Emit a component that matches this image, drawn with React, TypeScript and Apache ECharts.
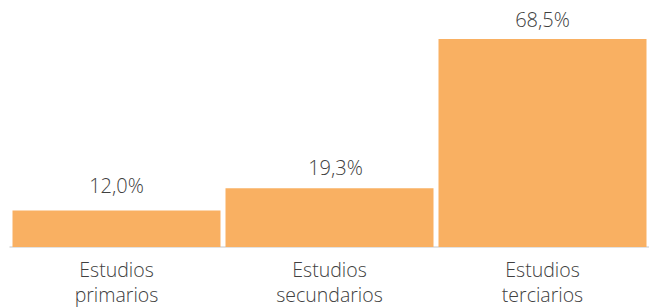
import React, { useEffect, useRef } from "react";
import * as echarts from "echarts";

const categories = ["Estudios\nprimarios", "Estudios\nsecundarios", "Estudios\nterciarios"];
const values = [12.0, 19.3, 68.5];
const Y_MAX = 81.3;

const FONT = "Open Sans";
const TEXT_COLOR = "#404040";
const BAR_COLOR = "#F9B062";

const labelDistances = [14, 10, 8];
const labelOffsets = [[0, 0], [6, 0], [0, 0]];

export default function App() {
  const ref = useRef<HTMLDivElement>(null);
  useEffect(() => {
    if (!ref.current) return;
    const chart = echarts.init(ref.current, undefined, { renderer: "svg" });
    chart.setOption({
      animation: false,
      grid: { left: 10, right: 0, top: 0, bottom: 59, containLabel: false },
      xAxis: {
        type: "category",
        data: categories,
        axisLine: { show: true, lineStyle: { color: "#D9D9D9", width: 1.5 } },
        axisTick: { show: false },
        axisLabel: {
          margin: 10,
          color: TEXT_COLOR,
          fontFamily: FONT,
          fontWeight: 300,
          fontSize: 19.5,
          lineHeight: 25,
          interval: 0,
        },
      },
      yAxis: {
        type: "value",
        min: 0,
        max: Y_MAX,
        show: false,
        splitLine: { show: false },
      },
      series: [
        {
          type: "bar",
          barWidth: 208,
          itemStyle: { color: BAR_COLOR },
          data: values.map((v, i) => ({
            value: v,
            label: { distance: labelDistances[i], offset: labelOffsets[i] },
          })),
          label: {
            show: true,
            position: "top",
            color: TEXT_COLOR,
            fontFamily: FONT,
            fontWeight: 300,
            fontSize: 20,
            lineHeight: 22,
            formatter: (p: any) => p.value.toFixed(1).replace(".", ",") + "%",
          },
        },
      ],
    });
    return () => chart.dispose();
  }, []);
  return (
    <div
      ref={ref}
      style={{ position: "fixed", left: 0, top: 0, width: 649, height: 307, background: "#fff" }}
    />
  );
}
